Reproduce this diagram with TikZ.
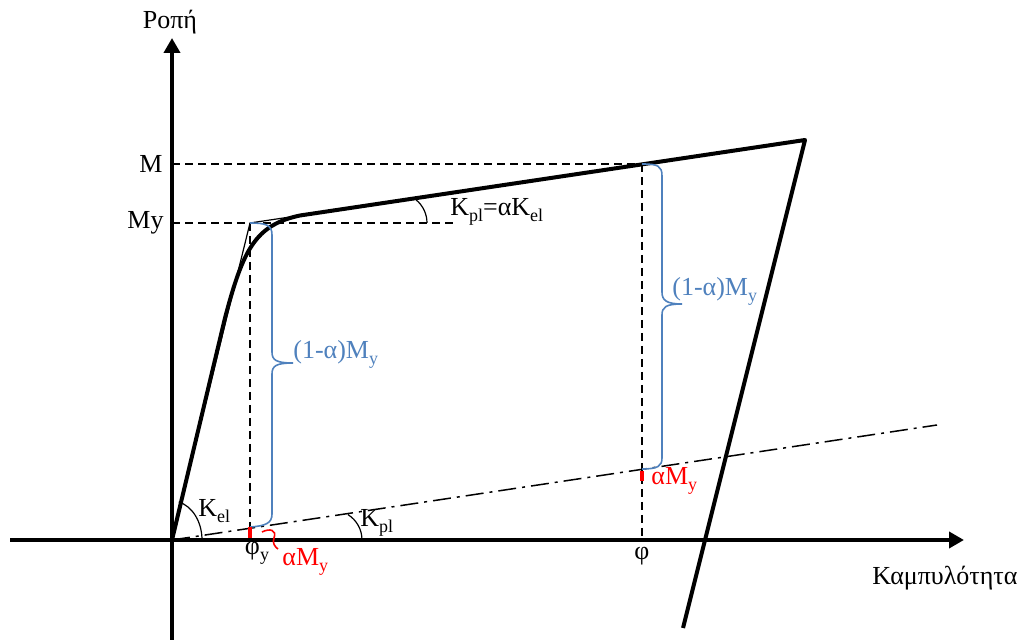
\documentclass[tikz,border=0pt]{standalone}
\usepackage{fontspec}
\setmainfont{Liberation Serif}
\usetikzlibrary{arrows.meta}
\definecolor{bracecol}{RGB}{79,129,189}
\newcommand{\sbs}[1]{\raisebox{-0.5ex}{\fontsize{9}{9}\selectfont #1}}

\begin{document}
\begin{tikzpicture}[
    x=0.5pt, y=-0.5pt,
    lbl/.style={font=\fontsize{13}{15}\selectfont, inner sep=0pt},
    axis/.style={line width=2pt, -{Triangle[length=7.5pt,width=8pt]}},
    curve/.style={line width=2pt, line join=round},
    thinline/.style={line width=0.6pt},
    guide/.style={line width=0.75pt, dash pattern=on 4pt off 2.5pt},
    dashdot/.style={line width=0.75pt, dash pattern=on 9pt off 3pt on 1.5pt off 3pt},
    bracket/.style={bracecol, line width=0.8pt},
    redtick/.style={red, line width=2pt},
]
\useasboundingbox (0,0) rectangle (1025,640);

% key points
\coordinate (O)   at (172,540);
\coordinate (xs)  at (10,540);
\coordinate (xe)  at (964,540);
\coordinate (ys)  at (172,640);
\coordinate (ye)  at (172,38);
\coordinate (Y)   at (250,223);
\coordinate (Yx)  at (250,540);
\coordinate (Yl)  at (172,223);
\coordinate (Yr)  at (455,223);
\coordinate (P)   at (642,164);
\coordinate (Px)  at (642,540);
\coordinate (Pl)  at (172,164);
\coordinate (T)   at (805,140);
\coordinate (E)   at (683,628);
\coordinate (D)   at (937,425);

% guide lines
\draw[guide] (Yl) -- (Yr);
\draw[guide] (Pl) -- (P);
\draw[guide] (Y) -- (Yx);
\draw[guide] (P) -- (Px);
\draw[dashdot] (O) -- (D);

% axes
\draw[axis] (xs) -- (xe);
\draw[axis] (ys) -- (ye);

% bilinear idealisation
\draw[thinline] (O) -- (Y) -- (290,217);

% moment-curvature curve
\draw[curve] (O) -- (225,318) .. controls (243,250) and (255,225) .. (300,215.5) -- (T) -- (E);

% angles
\draw[thinline] (202,540) arc[start angle=0, end angle=-77, x radius=30, y radius=39];
\draw[thinline] (362,540) arc[start angle=0, end angle=-58, radius=30];
\draw[thinline] (427,223) arc[start angle=0, end angle=-50, radius=30];

% braces
\draw[bracket] (Y) .. controls (266,223) and (272,225) .. (272,235) -- (272,352)
    .. controls (272,360) and (276,363) .. (293,363);
\draw[bracket] (293,363) .. controls (276,363) and (272,366) .. (272,374) -- (272,514)
    .. controls (272,523) and (266,526) .. (250,527);
\draw[bracket] (P) .. controls (658,164) and (662,166) .. (662,176) -- (662,292)
    .. controls (662,300) and (666,304) .. (682,304);
\draw[bracket] (682,304) .. controls (666,304) and (662,307) .. (662,315) -- (662,458)
    .. controls (662,466) and (658,469) .. (642,469);

% red marks
\draw[redtick] (250,527) -- (250,538);
\draw[redtick] (642,471) -- (642,481);
\draw[red, line width=0.8pt] (262,532) .. controls (270,528) and (277,530) .. (274,538)
    .. controls (272,543) and (275,547) .. (278,549);

% labels
\node[lbl] (ropi) at (170,22) {Ροπή};
\node[lbl] (kamp) at (945,578) {Καμπυλότητα};
\node[lbl, anchor=east] (mlab) at (163,164) {M};
\node[lbl, anchor=east] (mylab) at (164,223) {My};
\node[lbl] (phiy) at (257,553) {φ\sbs{y}};
\node[lbl] (phi) at (642,556) {φ};
\node[lbl, anchor=west] (kel) at (198,511) {K\sbs{el}};
\node[lbl, anchor=west] (kpl) at (360,523) {K\sbs{pl}};
\node[lbl, anchor=west] (kplel) at (450,212) {K\sbs{pl}=αK\sbs{el}};
\node[lbl, anchor=west, text=bracecol] (bl) at (293,354) {(1-α)M\sbs{y}};
\node[lbl, anchor=west, text=bracecol] (br) at (672,291) {(1-α)M\sbs{y}};
\node[lbl, anchor=west, text=red] (al) at (282,562) {αM\sbs{y}};
\node[lbl, anchor=west, text=red] (ar) at (651,481) {αM\sbs{y}};
\end{tikzpicture}
\end{document}
